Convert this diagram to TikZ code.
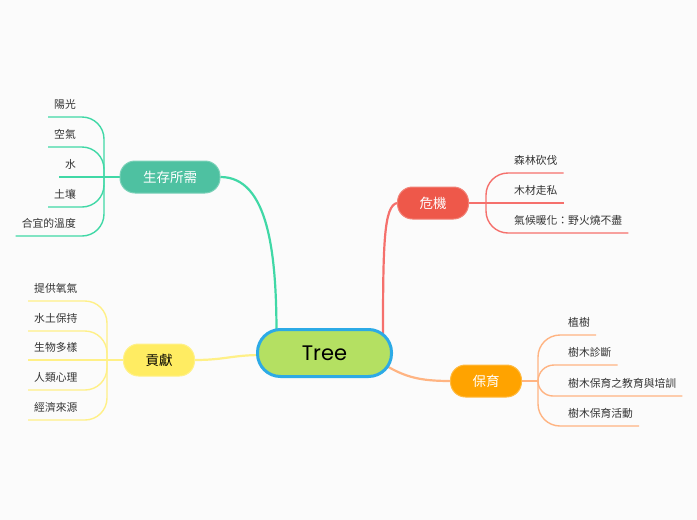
\documentclass[tikz,border=0pt]{standalone}
\usepackage{fontspec}
\setmainfont{Noto Sans CJK TC}
\newfontfamily\treefont{Poppins}
\usetikzlibrary{calc,backgrounds}
\definecolor{bgcol}{RGB}{251,251,251}
\definecolor{rootfill}{RGB}{180,224,98}
\definecolor{rootedge}{RGB}{44,170,230}
\definecolor{needfill}{RGB}{78,193,161}
\definecolor{needline}{RGB}{64,216,166}
\definecolor{riskfill}{RGB}{238,88,74}
\definecolor{riskline}{RGB}{245,112,108}
\definecolor{carefill}{RGB}{255,163,0}
\definecolor{careline}{RGB}{255,180,130}
\definecolor{givefill}{RGB}{255,236,98}
\definecolor{giveline}{RGB}{255,240,135}
\definecolor{leaftext}{RGB}{51,51,51}
\pgfdeclarelayer{back}
\pgfsetlayers{back,background,main}

\begin{document}
\begin{tikzpicture}[x=1pt,y=-1pt,
	root/.style={rectangle, rounded corners=23pt, minimum width=134pt, minimum height=47pt,
		fill=rootfill, draw=rootedge, line width=3pt, font=\treefont\fontsize{21}{21}\selectfont},
	branch/.style={rectangle, rounded corners=15pt, minimum width=71pt, minimum height=32pt,
		line width=1pt, text=white, font=\fontsize{13.5}{14}\selectfont},
	leaf/.style={inner xsep=6pt, inner ysep=0pt, text height=10pt, text depth=8.5pt,
		text=leaftext, font=\fontsize{10.8}{12}\selectfont},
	trunk/.style={line width=2.2pt},
	twig/.style={line width=1.4pt}]
	\begin{pgfonlayer}{back}
		\fill[bgcol] (0,0) rectangle (697,520);
	\end{pgfonlayer}
	\node[root] (tree) at (324.5,353) {Tree};
	\node[branch, minimum width=100pt, fill=needfill, draw=needfill!75!white] (need) at (170,177) {生存所需};
	\node[branch, fill=riskfill, draw=riskfill!75!white] (risk) at (433,203) {危機};
	\node[branch, fill=carefill, draw=carefill!75!white] (care) at (486,381) {保育};
	\node[branch, fill=givefill, draw=givefill!75!white, text=black] (give) at (159,360) {貢獻};
	\coordinate (needj) at (104,177);
	\coordinate (riskj) at (486,203);
	\coordinate (carej) at (538,381);
	\coordinate (givej) at (107,360);
	\begin{pgfonlayer}{background}
		\draw[needline, trunk] (need.east) .. controls +(48,0) and +(0,-80) .. ($(tree.north)+(-48,6)$);
		\draw[riskline, trunk] (risk.west) .. controls +(-13,3) and +(0,-93) .. ($(tree.north)+(58.5,8)$);
		\draw[careline, trunk] ($(tree.east)+(-8,12)$) .. controls +(20,12) and +(-30,0) .. (care.west);
		\draw[giveline, trunk] (give.east) .. controls +(30,0) and +(-30,0) .. ($(tree.west)+(6,2)$);
		\draw[needline, twig] (need.west) -- (needj);
		\draw[riskline, twig] (risk.east) -- (riskj);
		\draw[careline, twig] (care.east) -- (carej);
		\draw[giveline, twig] (give.west) -- (givej);
	\end{pgfonlayer}
	\foreach \t/\y [count=\i] in {陽光/117, 空氣/147, 水/177, 土壤/207, 合宜的溫度/236} {
		\node[leaf, anchor=south east] (need\i) at (82,\y) {\t};
		\pgfmathsetmacro\r{min(22,abs(\y-177))}
		\draw[needline, twig, rounded corners=\r pt] (needj) |- (need\i.south west);
	}
	\foreach \t/\y [count=\i] in {提供氧氣/301, 水土保持/331, 生物多樣/360, 人類心理/390, 經濟來源/420} {
		\node[leaf, anchor=south west] (give\i) at (28,\y) {\t};
		\pgfmathsetmacro\r{min(22,abs(\y-360))}
		\draw[giveline, twig, rounded corners=\r pt] (givej) |- (give\i.south west);
	}
	\foreach \t/\y [count=\i] in {森林砍伐/173, 木材走私/203, 氣候暖化：野火燒不盡/233} {
		\node[leaf, anchor=south west] (risk\i) at (508,\y) {\t};
		\pgfmathsetmacro\r{min(22,abs(\y-203))}
		\draw[riskline, twig, rounded corners=\r pt] (riskj) |- (risk\i.south east);
	}
	\foreach \t/\y [count=\i] in {植樹/335, 樹木診斷/365, 樹木保育之教育與培訓/396, 樹木保育活動/426} {
		\node[leaf, anchor=south west] (care\i) at (562,\y) {\t};
		\pgfmathsetmacro\r{min(22,abs(\y-381))}
		\draw[careline, twig, rounded corners=\r pt] (carej) |- (care\i.south east);
	}
\end{tikzpicture}
\end{document}
